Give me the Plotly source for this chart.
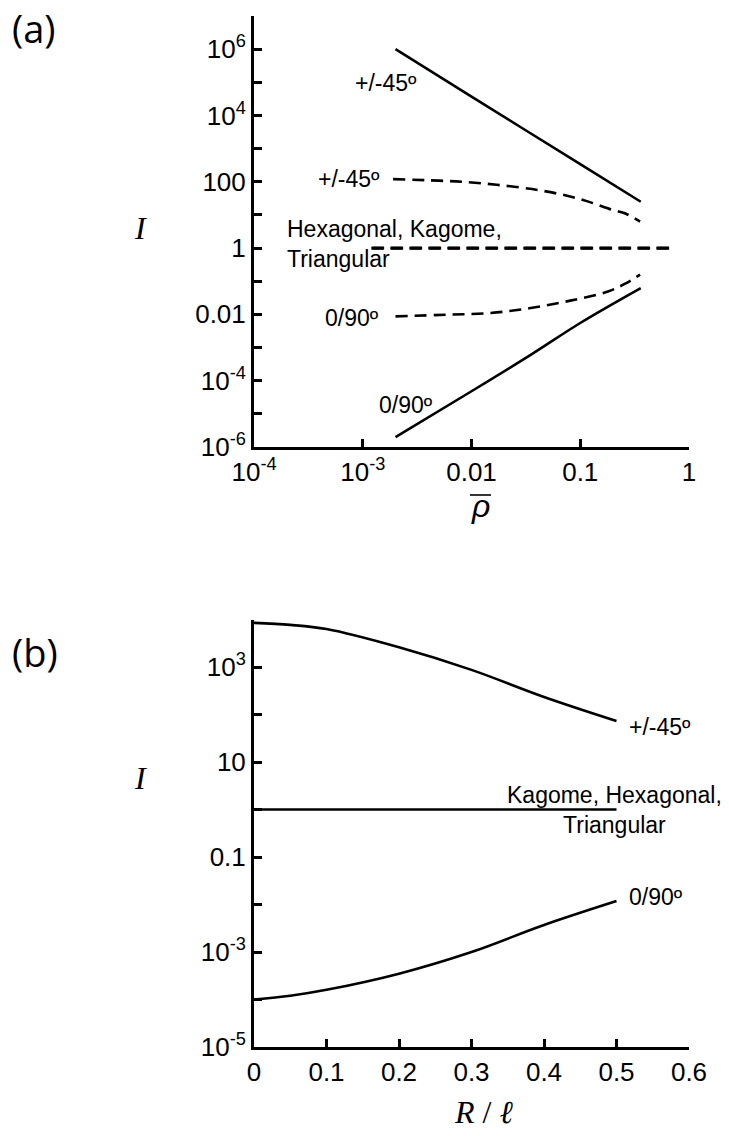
import plotly.graph_objects as go

W, H = 729, 1136

# ---------------- Panel (a): I vs relative density ----------------
rho_pm45_solid = [0.002, 0.01, 0.1, 0.36]
I_pm45_solid = [1.0e6, 3.7e4, 340, 25]

rho_pm45_dash = [0.0019, 0.005, 0.0083, 0.017, 0.043, 0.10, 0.20, 0.26, 0.355]
I_pm45_dash = [120, 108, 100, 81, 55, 30, 14, 11, 6.3]

rho_hex = [0.0012, 0.72]
I_hex = [1.0, 1.0]
rho_kag = [0.00121, 0.72]
I_kag = [1.0, 1.0]
rho_tri = [0.00122, 0.70]
I_tri = [1.0, 1.0]

rho_090_dash = [0.002, 0.006, 0.015, 0.035, 0.081, 0.18, 0.26, 0.355]
I_090_dash = [0.0087, 0.0098, 0.011, 0.0155, 0.026, 0.049, 0.085, 0.158]

rho_090_solid = [0.002, 0.01, 0.035, 0.1, 0.36]
I_090_solid = [2.0e-6, 4.8e-5, 6.0e-4, 5.5e-3, 0.062]

xa_tickvals = [1e-4, 1e-3, 1e-2, 1e-1, 1]
xa_ticktext = ["10<sup>-4</sup>", "10<sup>-3</sup>", "0.01", "0.1", "1"]
ya_tickvals = [1e-6, 1e-5, 1e-4, 1e-3, 1e-2, 1e-1, 1, 10, 100, 1e3, 1e4, 1e5, 1e6, 1e7]
ya_ticktext = ["10<sup>-6</sup>", " ", "10<sup>-4</sup>", " ", "0.01", " ", "1", " ", "100", " ",
               "10<sup>4</sup>", " ", "10<sup>6</sup>", " "]

# ---------------- Panel (b): I vs R / l ----------------
R_pm45 = [0.0, 0.05, 0.1, 0.2, 0.3, 0.4, 0.5]
I_pm45_b = [8500, 7700, 6300, 2600, 870, 234, 73]

R_kag = [0.0, 0.5]
I_kag_b = [1.0, 1.0]

R_090 = [0.0, 0.05, 0.1, 0.2, 0.3, 0.4, 0.5]
I_090_b = [1.0e-4, 1.2e-4, 1.6e-4, 3.5e-4, 1.0e-3, 3.7e-3, 0.0118]

xb_tickvals = [0, 0.1, 0.2, 0.3, 0.4, 0.5, 0.6]
xb_ticktext = ["0", "0.1", "0.2", "0.3", "0.4", "0.5", "0.6"]
yb_tickvals = [1e-5, 1e-4, 1e-3, 1e-2, 1e-1, 1, 10, 100, 1e3, 1e4]
yb_ticktext = ["10<sup>-5</sup>", " ", "10<sup>-3</sup>", " ", "0.1", " ", "10", " ", "10<sup>3</sup>", " "]

# ---------------- layout helpers (pixel -> paper) ----------------
def pxx(x):
    return x / W

def pxy(y):
    return 1 - y / H

X0, X1 = 254, 689
A_TOP, A_BOT = 16, 447
B_TOP, B_BOT = 619.5, 1047

BLACK = "black"
SOLID = dict(color=BLACK, width=2.6)
DASH = dict(color=BLACK, width=2.6, dash="12px,7px")

fig = go.Figure()


def add(x, y, line, xa="x", ya="y", shape="spline"):
    fig.add_trace(go.Scatter(x=x, y=y, mode="lines", line=dict(line, shape=shape),
                             xaxis=xa, yaxis=ya, hoverinfo="skip", showlegend=False))


add(rho_pm45_solid, I_pm45_solid, SOLID)
add(rho_pm45_dash, I_pm45_dash, DASH)
add(rho_hex, I_hex, DASH, shape="linear")
add(rho_kag, I_kag, DASH, shape="linear")
add(rho_tri, I_tri, DASH, shape="linear")
add(rho_090_dash, I_090_dash, DASH)
add(rho_090_solid, I_090_solid, SOLID)

add(R_pm45, I_pm45_b, SOLID, "x2", "y2")
add(R_kag, I_kag_b, SOLID, "x2", "y2", shape="linear")
add(R_090, I_090_b, SOLID, "x2", "y2")

TICKFONT = dict(family="Liberation Sans, Arial, sans-serif", size=26, color=BLACK)
axis_common = dict(showline=True, linecolor=BLACK, linewidth=3, ticks="inside",
                   ticklen=8, tickwidth=3, tickcolor=BLACK, showgrid=False,
                   zeroline=False, tickfont=TICKFONT, mirror=False, tickmode="array",
                   automargin=False, fixedrange=True)

fig.update_layout(
    width=W, height=H, autosize=False, margin=dict(l=0, r=0, t=0, b=0, pad=0),
    paper_bgcolor="white", plot_bgcolor="white", showlegend=False,
    xaxis=dict(axis_common, type="log", range=[-4, 0], domain=[pxx(X0), pxx(X1)],
               anchor="y", tickvals=xa_tickvals, ticktext=xa_ticktext),
    yaxis=dict(axis_common, type="log", range=[-6, 7], domain=[pxy(A_BOT), pxy(A_TOP)],
               anchor="x", tickvals=ya_tickvals, ticktext=ya_ticktext),
    xaxis2=dict(axis_common, range=[0, 0.6], domain=[pxx(X0), pxx(X1)],
                anchor="y2", tickvals=xb_tickvals, ticktext=xb_ticktext),
    yaxis2=dict(axis_common, type="log", range=[-5, 4], domain=[pxy(B_BOT), pxy(B_TOP)],
                anchor="x2", tickvals=yb_tickvals, ticktext=yb_ticktext),
)

LBL = dict(family="Liberation Sans, Arial, sans-serif", size=23, color=BLACK)
SERIF = dict(family="Liberation Serif, Times New Roman, serif", size=32, color=BLACK)
PANEL = dict(family="Open Sans, Noto Sans, sans-serif", size=38, color=BLACK)


def ann(text, x, y, font, xanchor="center", yanchor="middle", align="left"):
    fig.add_annotation(text=text, x=pxx(x), y=pxy(y), xref="paper", yref="paper",
                       showarrow=False, font=font, xanchor=xanchor, yanchor=yanchor,
                       align=align)


# panel (a) labels
ann("+/-45º", 353, 83, LBL, xanchor="left")
ann("+/-45º", 382, 179, LBL, xanchor="right")
ann("Hexagonal, Kagome,<br>Triangular", 285, 244, LBL, xanchor="left")
ann("0/90º", 381, 318, LBL, xanchor="right")
ann("0/90º", 377, 405, LBL, xanchor="left")
ann("<i>I</i>", 140, 228, SERIF)
ann("<i>ρ</i>", 480, 506, dict(family="Liberation Sans, Arial, sans-serif", size=32, color=BLACK))
ann("(a)", 10, 0, PANEL, xanchor="left", yanchor="top")

# overline of the rho symbol
fig.add_shape(type="line", xref="paper", yref="paper",
              x0=pxx(470), x1=pxx(491), y0=pxy(495), y1=pxy(495),
              line=dict(color=BLACK, width=1.6))

# panel (b) labels
ann("+/-45º", 627, 727, LBL, xanchor="left")
ann("Kagome, Hexagonal,<br>Triangular", 614, 810, LBL, align="center")
ann("0/90º", 627, 897, LBL, xanchor="left")
ann("<i>I</i>", 140, 778, SERIF)
ann("<i>R</i> / <i>ℓ</i>", 483, 1112, SERIF)
ann("(b)", 10, 652, PANEL, xanchor="left")

fig.write_html("out.html")
